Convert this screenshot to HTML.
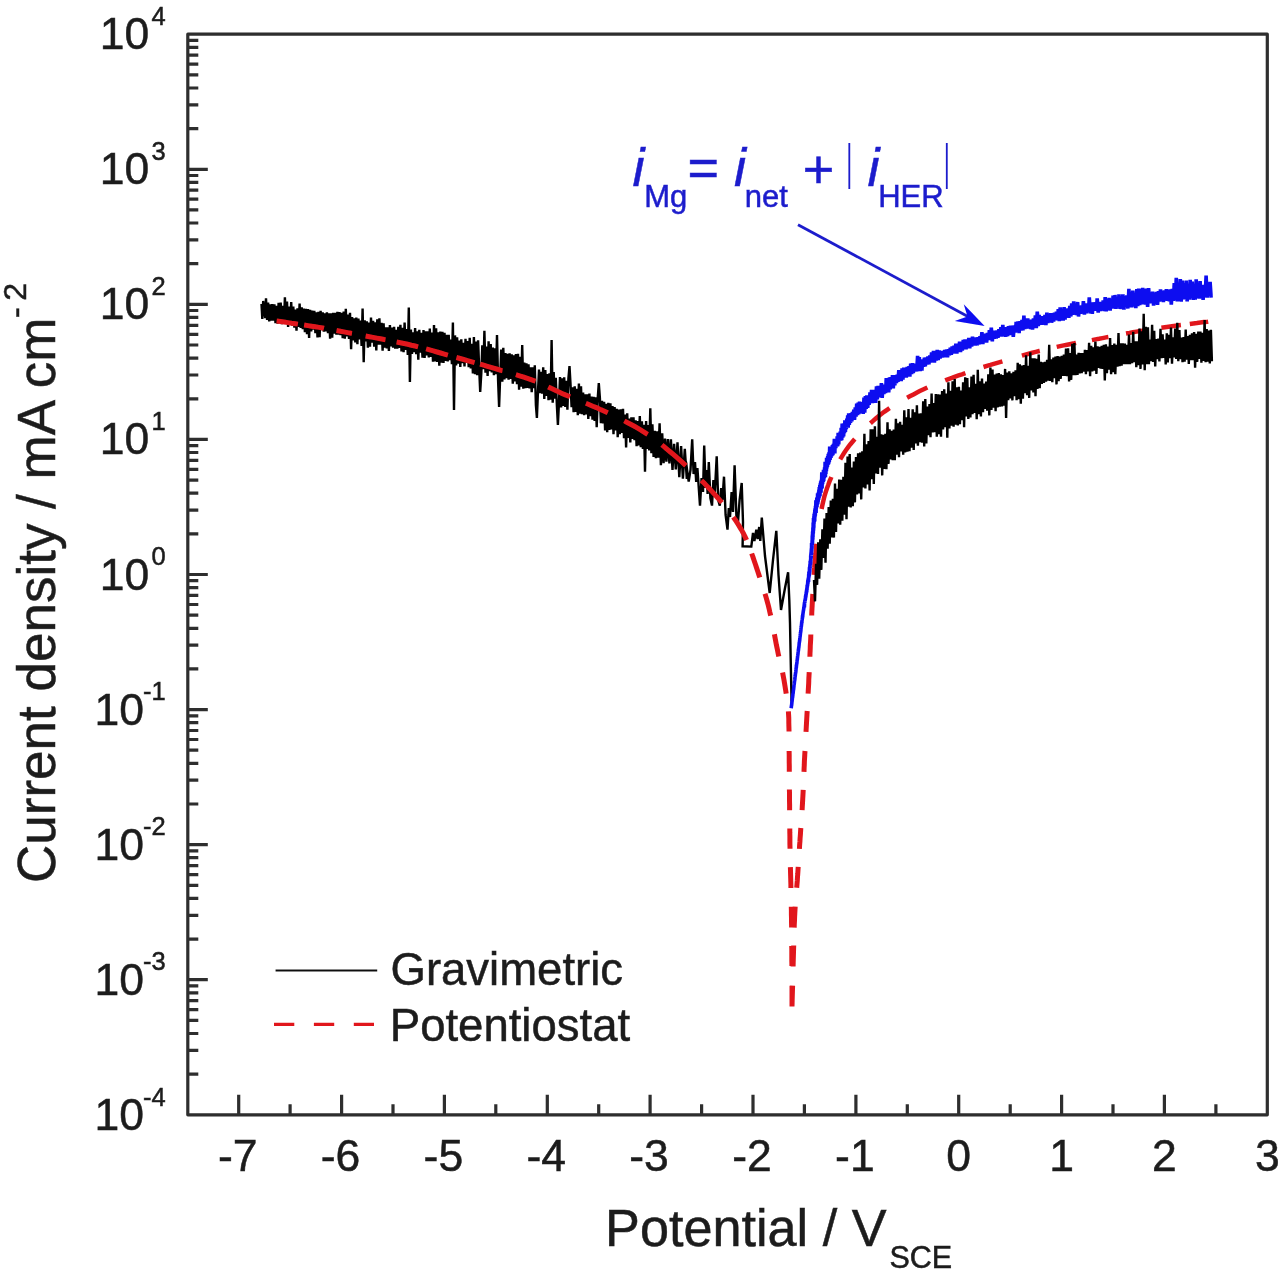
<!DOCTYPE html>
<html lang="en"><head><meta charset="utf-8"><title>Polarisation curve</title>
<style>html,body{margin:0;padding:0;background:#fff;}body{width:1280px;height:1275px;overflow:hidden;}svg{display:block;}text{font-family:"Liberation Sans",sans-serif;stroke-width:0.5px;paint-order:stroke;}</style></head><body>
<svg width="1280" height="1275" viewBox="0 0 1280 1275">
<defs><filter id="soft" x="0" y="0" width="1280" height="1275" filterUnits="userSpaceOnUse"><feGaussianBlur stdDeviation="0.6"/></filter></defs>
<rect x="0" y="0" width="1280" height="1275" fill="#ffffff"/>
<g filter="url(#soft)">
<g fill="none" stroke-linejoin="miter" stroke-miterlimit="2" stroke-linecap="butt">
<path d="M261.5 304.0L262.3 319.0L263.2 301.0L264.3 311.0L265.2 318.0L266.0 298.3L267.1 320.0L268.1 302.6L269.2 321.4L270.2 304.2L271.3 320.7L272.3 304.0L273.4 320.6L274.4 304.2L275.5 323.2L276.5 305.9L277.6 323.6L278.6 302.7L279.7 321.3L280.7 302.6L281.8 324.1L282.8 305.7L283.9 322.8L284.9 297.4L286.0 322.9L287.0 301.6L288.1 327.0L289.1 306.6L290.2 324.4L291.2 302.1L292.3 325.8L293.3 306.6L294.4 327.6L295.4 309.6L296.5 330.8L297.5 308.2L298.6 326.9L299.6 303.5L300.7 327.9L301.7 307.4L302.8 329.3L303.8 308.6L304.9 332.3L305.9 308.8L307.0 334.1L308.0 309.1L309.1 337.9L310.1 309.8L311.2 331.4L312.2 310.5L313.3 329.6L314.3 310.9L315.4 333.3L316.4 312.3L317.5 337.4L318.5 311.7L319.6 337.3L320.6 310.9L321.7 330.3L322.7 312.4L323.8 331.7L324.8 313.2L325.9 331.5L326.9 312.2L328.0 333.1L329.0 313.2L330.1 338.8L331.1 313.3L332.2 337.6L333.2 312.7L334.3 333.8L335.3 312.8L336.4 334.6L337.4 311.7L338.5 334.8L339.5 312.1L340.6 335.2L341.6 312.9L342.7 338.1L343.7 311.5L344.8 338.7L345.8 308.9L346.9 336.4L347.9 314.5L349.0 338.9L350.0 312.8L351.1 349.1L352.1 317.0L353.2 340.5L354.2 318.3L355.3 342.5L356.3 317.5L357.4 344.3L358.4 318.6L359.5 339.5L360.5 320.5L361.6 346.0L362.6 308.6L363.7 362.2L364.7 320.2L365.8 341.5L366.8 321.3L367.9 347.8L368.9 322.6L370.0 346.7L371.0 317.5L372.1 342.8L373.1 320.7L374.2 346.6L375.2 322.2L376.3 350.5L377.3 319.4L378.4 344.6L379.4 318.3L380.5 344.8L381.5 322.9L382.6 350.7L383.6 323.3L384.7 347.8L385.7 327.2L386.8 348.5L387.8 327.4L388.9 350.9L389.9 325.0L391.0 346.4L392.0 327.6L393.1 347.6L394.1 326.8L395.2 348.6L396.2 329.7L397.3 348.7L398.3 326.8L399.4 347.9L400.4 324.9L401.5 351.5L402.5 327.9L403.6 352.2L404.6 322.6L405.7 350.0L406.7 329.0L407.8 354.9L408.8 307.5L409.9 382.0L410.9 329.6L412.0 353.9L413.0 332.2L414.1 352.2L415.1 328.1L416.2 354.1L417.2 331.4L418.3 359.7L419.3 329.7L420.4 352.7L421.4 332.9L422.5 357.7L423.5 330.0L424.6 357.9L425.6 331.4L426.7 355.5L427.7 331.2L428.8 357.5L429.8 328.5L430.9 357.0L431.9 332.6L433.0 361.7L434.0 325.0L435.1 361.4L436.1 328.4L437.2 361.9L438.2 332.4L439.3 365.6L440.3 331.5L441.4 362.7L442.4 331.8L443.5 362.9L444.5 332.9L445.6 361.0L446.6 334.9L447.7 361.5L448.7 334.8L449.8 360.3L450.8 339.5L451.9 364.1L452.9 322.5L454.0 410.0L455.0 335.4L456.1 365.5L457.1 337.2L458.2 363.8L459.2 340.5L460.3 367.0L461.3 339.3L462.4 363.1L463.4 342.7L464.5 366.5L465.5 338.8L466.6 362.9L467.6 341.1L468.7 367.1L469.7 337.8L470.8 368.5L471.8 343.8L472.9 373.4L473.9 337.1L475.0 374.1L476.0 341.6L477.1 375.2L478.1 340.2L479.2 369.3L480.2 392.0L481.3 373.5L482.3 345.3L483.4 369.2L484.4 330.8L485.5 372.6L486.5 346.5L487.6 376.0L488.6 341.2L489.7 371.1L490.7 344.0L491.8 372.4L492.8 347.6L493.9 375.2L494.9 348.4L496.0 374.3L497.0 335.0L498.1 380.9L499.1 407.0L500.2 376.1L501.2 349.6L502.3 381.7L503.3 347.9L504.4 379.4L505.4 353.0L506.5 378.1L507.5 353.9L508.6 379.7L509.6 353.2L510.7 378.9L511.7 354.4L512.8 383.8L513.8 355.4L514.9 381.4L515.9 354.0L517.0 384.1L518.0 353.7L519.1 389.6L520.1 356.8L521.2 386.8L522.2 345.0L523.3 388.7L524.3 362.6L525.4 388.2L526.4 363.4L527.5 387.9L528.5 364.3L529.6 388.4L530.6 367.3L531.7 392.2L532.7 367.4L533.8 388.2L534.8 365.4L535.9 405.2L536.9 418.0L538.0 391.0L539.0 369.6L540.1 393.3L541.1 371.8L542.2 393.6L543.2 367.3L544.3 399.0L545.3 370.0L546.4 395.9L547.4 374.1L548.5 400.3L549.5 373.4L550.6 399.6L551.6 340.0L552.7 402.7L553.7 372.1L554.8 398.7L555.8 377.8L556.9 406.0L557.9 425.0L559.0 401.9L560.0 377.0L561.1 407.4L562.1 378.4L563.2 406.0L564.2 377.3L565.3 406.9L566.3 380.8L567.4 409.8L568.4 378.6L569.5 366.0L570.5 383.8L571.6 407.2L572.6 387.4L573.6 412.2L574.7 386.2L575.7 412.0L576.8 388.7L577.8 415.3L578.9 383.5L579.9 413.8L581.0 386.2L582.0 414.2L583.1 392.6L584.1 415.3L585.2 394.4L586.2 414.4L587.3 394.3L588.3 418.9L589.4 393.6L590.4 416.3L591.5 396.6L592.5 419.7L593.6 396.7L594.6 421.0L595.7 397.3L596.7 427.3L597.8 397.3L598.8 383.0L599.9 398.1L600.9 423.3L602.0 400.7L603.0 423.4L604.1 401.7L605.1 430.4L606.2 403.7L607.2 432.2L608.3 402.7L609.3 430.0L610.4 403.4L611.4 429.5L612.5 406.1L613.5 434.3L614.6 407.0L615.6 430.5L616.7 408.7L617.7 437.2L618.8 409.5L619.8 434.3L620.9 409.2L621.9 433.0L623.0 408.8L624.0 438.3L625.1 414.6L626.1 447.5L627.2 413.2L628.2 437.9L629.3 418.5L630.3 442.5L631.4 417.2L632.4 438.9L633.5 417.3L634.5 440.2L635.6 420.4L636.6 446.3L637.7 421.1L638.7 445.5L639.8 416.1L640.8 447.3L641.9 421.2L642.9 449.0L644.0 424.7L645.0 471.7L646.1 421.1L647.1 448.9L648.2 425.1L649.2 450.4L650.3 408.3L651.4 453.2L652.4 424.3L653.6 457.0L654.7 430.8L655.9 458.1L657.1 431.3L658.3 457.6L659.6 423.2L660.9 465.1L662.2 433.4L663.6 463.3L665.0 438.5L666.4 461.6L667.9 439.0L669.4 463.5L670.9 439.4L672.5 469.9L674.1 443.9L675.8 469.3L677.5 442.3L679.3 477.3L681.1 446.1L682.9 478.7L684.8 448.9L686.8 478.9L686.0 462.0L688.7 481.6L690.5 470.0L692.2 439.3L693.6 474.0L695.0 462.0L696.2 482.0L697.4 468.0L700.0 505.6L701.6 478.0L703.0 492.0L704.2 445.6L705.6 488.0L706.6 470.0L707.6 494.0L708.8 462.0L710.4 498.0L712.0 505.6L713.4 480.0L714.6 497.0L716.7 456.2L718.2 500.0L719.8 505.6L721.2 488.0L722.4 500.0L724.0 476.7L725.6 515.0L727.5 529.6L728.8 508.0L730.0 517.0L731.6 492.0L733.0 512.0L734.6 465.4L736.4 516.0L738.0 522.0L739.6 500.0L741.7 483.0L743.0 522.0L742.6 546.3L751.3 546.6L753.0 533.0L754.4 541.0L756.3 529.6L757.6 539.0L759.2 527.0L760.3 541.0L761.8 517.7L765.0 556.0L769.7 593.0L773.0 560.0L776.3 530.8L778.5 575.0L781.0 610.0L785.0 588.0L788.1 572.3L789.3 600.0L790.0 623.0L790.8 665.0L791.7 708.0" stroke="#000" stroke-width="2.4"/>
<path d="M276.6 321.1L280.4 321.6L284.1 322.1L287.9 322.6L291.6 323.2L295.4 323.7L297.9 324.1M304.1 325.0L307.9 325.6L311.6 326.2L315.3 326.8L319.1 327.4L322.8 328.0L324.0 328.3M336.5 330.5L340.2 331.2L343.9 331.9L347.6 332.6L351.3 333.3L352.0 333.4M365.6 336.0L369.3 336.7L373.1 337.4L376.8 338.1L380.5 338.8L384.2 339.5L385.5 339.7M396.6 342.0L400.3 342.7L404.0 343.5L407.7 344.3L411.4 345.2L415.1 346.0L418.1 346.8M426.1 348.9L429.7 349.9L433.3 350.9L437.0 352.0L440.6 353.0L444.3 354.1L447.9 355.1M456.4 357.5L460.1 358.5L463.7 359.5L467.4 360.6L471.0 361.6L474.6 362.6M480.1 364.2L483.7 365.2L487.4 366.3L491.0 367.3L494.6 368.4L498.3 369.5L501.9 370.6L502.5 370.7M515.9 374.7L519.5 375.8L523.1 376.9L526.7 378.1L530.3 379.3L533.8 380.6L535.6 381.2M548.2 386.9L551.6 388.6L555.1 390.2L558.5 391.8L562.0 393.4L565.4 394.9L568.9 396.3L570.1 396.8M585.9 403.3L589.4 404.7L592.9 406.2L596.4 407.6L599.8 409.2L603.3 410.7L606.7 412.3L607.8 412.8M624.3 420.9L627.7 422.7L631.1 424.5L634.4 426.3L637.7 428.2L640.9 430.1L644.1 432.1L647.2 434.1L647.7 434.4M661.9 444.9L664.9 447.3L667.8 449.8L670.7 452.2L673.6 454.7L676.5 457.2L679.3 459.7L682.1 462.2L685.0 464.8L685.9 465.6M701.4 480.4L704.1 483.1L706.7 485.9L709.3 488.6L711.9 491.4L714.4 494.2L717.0 497.0L719.5 499.9L721.9 502.7M733.3 517.1L735.5 520.2L737.5 523.3L739.5 526.6L741.5 529.9L743.3 533.2L745.0 536.6L746.6 540.0M751.7 553.5L753.0 557.1L754.2 560.7L755.4 564.3L756.6 567.9L757.8 571.5L759.0 575.1L759.8 577.5M765.0 593.7L766.1 597.4L767.1 601.0L768.1 604.7L769.0 608.3L769.8 612.0L770.7 615.7M774.4 634.3L775.1 638.0L775.8 641.7L776.5 645.4L777.3 649.1L778.0 652.8L778.8 656.6M782.6 672.5L783.3 676.2L784.0 680.0L784.6 683.7L785.2 687.4L785.8 691.2L786.2 693.7M788.4 711.3L788.6 715.0L788.8 718.8L788.8 722.6L788.9 726.4L789.0 730.1L789.0 731.4M789.1 751.0L789.2 754.8L789.2 758.5L789.2 762.3L789.3 766.1L789.3 769.9L789.3 771.8M789.4 789.5L789.5 793.3L789.5 797.0L789.5 800.8L789.6 804.6L789.6 808.4L789.6 810.3M789.8 828.6L789.8 832.4L789.9 836.2L789.9 839.9L789.9 843.7L790.0 847.5L790.0 848.8M790.4 867.1L790.5 870.9L790.6 874.6L790.7 878.4L790.8 882.2L790.9 886.0L790.9 887.9M791.3 906.8L791.4 910.6L791.4 914.4L791.5 918.2L791.5 922.0L791.6 925.7L791.6 927.6M791.7 945.9L791.8 949.7L791.8 953.5L791.8 957.3L791.8 961.1L791.9 964.9L791.9 966.1M792.0 985.7L792.0 989.5L792.0 993.2L792.0 997.0L792.0 1000.8L792.0 1004.6L792.0 1006.5M811.7 615.5L811.8 611.9L812.0 608.3L812.2 604.7L812.4 601.2L812.6 597.6L812.8 594.0M809.9 656.7L810.0 653.1L810.2 649.5L810.3 645.9L810.5 642.4L810.7 638.8L810.8 635.2L810.8 634.6M808.1 693.7L808.3 690.1L808.5 686.6L808.7 683.0L808.8 679.4L809.0 675.8L809.2 672.2M806.0 731.9L806.2 728.3L806.4 724.8L806.6 721.2L806.8 717.6L807.0 714.0L807.2 711.0M804.0 771.9L804.1 768.3L804.3 764.7L804.4 761.2L804.6 757.6L804.8 754.0L805.0 751.0M802.1 810.1L802.3 806.5L802.5 803.0L802.7 799.4L802.9 795.8L803.1 792.2L803.2 789.8M799.4 848.9L799.6 845.3L799.9 841.7L800.1 838.2L800.4 834.6L800.6 831.0L800.8 828.0M796.7 887.7L797.0 884.1L797.3 880.5L797.5 876.9L797.8 873.3L798.0 869.8L798.2 866.8M794.2 927.6L794.3 924.0L794.5 920.4L794.6 916.9L794.8 913.3L795.0 909.7L795.2 906.7M793.1 966.5L793.2 962.9L793.3 959.3L793.4 955.7L793.5 952.1L793.6 948.5L793.7 945.5M792.0 1006.5L792.1 1002.9L792.2 999.3L792.3 995.7L792.4 992.2L792.5 988.6L792.6 985.6M814.0 574.9L814.3 571.3L814.6 567.7L814.8 564.1L815.1 560.6L815.4 557.0L815.8 553.4L816.1 549.9L816.4 546.3L816.7 543.9" stroke="#e1191e" stroke-width="5.0"/>
<path d="M821.6 509.0L822.3 505.4L823.1 502.0L823.9 498.5L824.8 495.0L825.9 491.6L827.0 488.2L828.3 484.8L829.5 481.4L830.9 478.1L831.3 477.0M840.2 459.4L842.0 456.3L843.9 453.3L845.9 450.3L848.0 447.4L850.2 444.5L852.5 441.7L854.8 439.0M870.4 423.3L873.1 420.9L875.8 418.5L878.5 416.2L881.3 414.0L884.2 411.8L887.1 409.8L889.6 408.1M907.1 397.8L910.3 396.1L913.5 394.4L916.6 392.7L919.8 391.1L923.1 389.5L926.3 388.0L927.4 387.5M945.2 380.4L948.5 379.1L951.9 377.9L955.2 376.6L958.6 375.4L962.0 374.3L965.4 373.1M983.5 367.0L986.9 365.9L990.4 364.9L993.8 363.8L997.3 362.8L1000.7 361.8L1002.4 361.3M1021.9 355.6L1025.4 354.6L1028.8 353.7L1032.3 352.8L1035.8 351.9L1039.3 351.0L1039.8 350.9M1056.7 346.9L1060.2 346.1L1063.7 345.4L1067.2 344.7L1070.8 344.0L1074.3 343.3L1076.0 342.9M1091.9 340.1L1095.5 339.4L1099.0 338.8L1102.5 338.1L1106.0 337.4L1108.4 337.0M1126.0 333.5L1129.5 332.9L1133.0 332.2L1136.6 331.6L1140.1 331.1L1143.6 330.5L1144.8 330.3M1161.4 327.8L1164.9 327.3L1168.5 326.8L1172.0 326.3L1175.6 325.8L1179.1 325.3L1180.9 325.1M1189.8 323.9L1193.4 323.4L1196.9 323.0L1200.5 322.5L1204.0 322.1L1207.6 321.7L1208.2 321.6" stroke="#e1191e" stroke-width="4.5"/>
<path d="M814.0 580.0L815.0 601.4L816.1 563.7L817.1 584.9L818.2 542.2L819.2 578.8L820.3 539.3L821.3 569.9L822.4 529.3L823.4 558.0L824.5 518.6L825.5 562.8L826.6 513.0L827.6 548.6L828.7 507.0L829.7 543.6L830.8 500.6L831.8 537.5L832.9 498.8L833.9 537.6L835.0 483.4L836.0 531.9L837.1 488.8L838.1 523.4L839.2 479.6L840.2 524.7L841.3 479.7L842.3 520.6L843.4 476.9L844.4 514.6L845.5 462.7L846.5 519.3L847.6 456.6L848.6 506.6L849.7 454.0L850.7 507.4L851.8 467.6L852.8 506.1L853.9 461.6L854.9 502.4L856.0 457.0L857.0 494.5L858.1 453.2L859.1 493.4L860.2 452.5L861.2 499.4L862.3 451.4L863.3 487.5L864.4 433.8L865.4 488.4L866.5 444.4L867.5 484.4L868.6 441.1L869.6 490.6L870.7 429.3L871.7 479.2L872.8 429.2L873.8 484.1L874.9 426.2L875.9 473.5L877.0 436.8L878.0 474.0L879.1 400.8L880.1 467.6L881.2 434.2L882.2 475.4L883.3 434.7L884.3 468.9L885.4 433.7L886.4 469.1L887.5 422.4L888.5 463.9L889.6 429.2L890.6 459.5L891.7 430.8L892.7 460.1L893.8 429.6L894.8 460.3L895.9 418.7L896.9 454.6L898.0 423.2L899.0 457.1L900.1 421.9L901.1 451.4L902.2 424.8L903.2 454.6L904.3 410.2L905.3 452.4L906.4 417.2L907.4 451.6L908.5 409.0L909.5 451.3L910.6 417.9L911.6 447.6L912.7 409.3L913.7 450.0L914.8 412.4L915.8 443.4L916.9 405.2L917.9 445.8L919.0 413.5L920.0 442.2L921.1 413.2L922.1 442.7L923.2 401.2L924.2 446.5L925.3 399.0L926.3 443.5L927.4 406.6L928.4 435.2L929.5 404.1L930.5 437.1L931.6 393.5L932.6 432.5L933.7 403.0L934.7 432.3L935.8 394.1L936.8 436.6L937.9 394.2L938.9 434.1L940.0 394.6L941.0 436.6L942.1 391.0L943.1 429.5L944.2 389.2L945.2 427.3L946.3 393.6L947.3 437.8L948.4 382.3L949.4 428.5L950.5 390.7L951.5 425.7L952.6 381.4L953.6 426.6L954.7 379.0L955.7 424.8L956.8 387.2L957.8 425.5L958.9 386.8L959.9 424.3L961.0 390.6L962.0 420.3L963.1 382.2L964.1 427.2L965.2 377.2L966.2 416.4L967.3 378.1L968.3 419.0L969.4 387.2L970.4 417.5L971.5 376.6L972.5 414.1L973.6 374.9L974.6 413.0L975.7 383.9L976.7 419.1L977.8 369.9L978.8 414.2L979.9 381.3L980.9 416.5L982.0 378.5L983.0 412.1L984.1 383.5L985.1 408.9L986.2 381.6L987.2 410.8L988.3 374.3L989.3 415.4L990.4 367.6L991.4 410.0L992.5 369.5L993.5 407.7L994.6 374.6L995.6 411.2L996.7 373.5L997.7 407.4L998.8 373.0L999.8 406.6L1000.9 374.4L1001.9 406.5L1003.0 375.0L1004.0 405.8L1005.1 368.9L1006.1 417.9L1007.2 372.6L1008.2 400.3L1009.3 371.4L1010.3 398.5L1011.4 373.2L1012.4 400.4L1013.5 371.7L1014.5 396.2L1015.6 370.3L1016.6 400.2L1017.7 362.7L1018.7 399.2L1019.8 364.4L1020.8 403.8L1021.9 365.5L1022.9 398.7L1024.0 365.1L1025.0 393.3L1026.1 355.4L1027.1 395.1L1028.2 365.9L1029.2 397.9L1030.3 352.4L1031.3 390.4L1032.4 358.3L1033.4 392.5L1034.5 358.3L1035.5 396.2L1036.6 358.7L1037.6 388.9L1038.7 354.5L1039.7 388.2L1040.8 361.8L1041.8 383.9L1042.9 362.4L1043.9 382.9L1045.0 361.8L1046.0 381.6L1047.1 359.7L1048.1 380.8L1049.2 344.9L1050.2 381.0L1051.3 359.3L1052.3 382.3L1053.4 357.6L1054.4 378.1L1055.5 356.5L1056.5 384.4L1057.6 356.1L1058.6 381.1L1059.7 356.5L1060.7 378.9L1061.8 355.8L1062.8 375.9L1063.9 354.5L1064.9 376.0L1066.0 348.6L1067.0 376.3L1068.1 348.2L1069.1 381.4L1070.2 353.1L1071.2 379.9L1072.3 343.8L1073.3 375.2L1074.4 343.1L1075.4 375.2L1076.5 354.5L1077.5 375.0L1078.6 352.7L1079.6 373.5L1080.7 353.1L1081.7 373.1L1082.8 353.0L1083.8 371.8L1084.9 349.7L1085.9 374.3L1087.0 350.1L1088.0 371.5L1089.1 342.9L1090.1 376.3L1091.2 345.8L1092.2 371.5L1093.3 347.3L1094.3 370.8L1095.4 341.5L1096.4 373.9L1097.5 346.4L1098.5 368.0L1099.6 346.9L1100.6 368.8L1101.7 345.8L1102.7 368.9L1103.8 344.7L1104.8 380.5L1105.9 344.2L1106.9 373.2L1108.0 346.6L1109.0 369.6L1110.1 338.1L1111.1 374.1L1112.2 345.0L1113.2 372.2L1114.3 343.5L1115.3 374.1L1116.4 344.9L1117.4 366.6L1118.5 333.0L1119.5 366.2L1120.6 343.3L1121.6 365.6L1122.7 343.3L1123.7 364.3L1124.8 343.6L1125.8 364.3L1126.9 344.7L1127.9 364.3L1129.0 334.6L1130.0 364.2L1131.1 343.1L1132.1 363.1L1133.2 331.8L1134.2 362.2L1135.3 341.2L1136.3 367.2L1137.4 341.3L1138.4 365.1L1139.5 328.5L1140.5 368.9L1141.6 331.4L1142.6 364.4L1143.7 313.7L1144.7 370.3L1145.8 326.7L1146.8 364.3L1147.9 327.2L1148.9 364.2L1150.0 339.6L1151.0 361.3L1152.1 324.8L1153.1 361.9L1154.2 330.7L1155.2 366.5L1156.3 339.1L1157.3 359.3L1158.4 338.5L1159.4 361.5L1160.5 328.9L1161.5 358.3L1162.6 334.4L1163.6 357.9L1164.7 339.5L1165.7 364.5L1166.8 333.3L1167.8 362.4L1168.9 334.7L1169.9 358.3L1171.0 327.6L1172.0 363.7L1173.1 337.3L1174.1 357.5L1175.2 328.5L1176.2 359.0L1177.3 322.8L1178.3 361.1L1179.4 330.0L1180.4 359.2L1181.5 337.6L1182.5 362.3L1183.6 337.0L1184.6 361.6L1185.7 329.5L1186.7 359.6L1187.8 336.0L1188.8 364.0L1189.9 334.7L1190.9 360.1L1192.0 333.2L1193.0 360.2L1194.1 332.1L1195.1 367.6L1196.2 333.8L1197.2 361.9L1198.3 331.6L1199.3 359.0L1200.4 331.5L1201.4 362.7L1202.5 332.8L1203.5 361.0L1204.6 320.0L1205.6 362.2L1206.7 329.1L1207.7 361.6L1208.8 330.6L1209.8 363.5L1210.9 329.9L1211.9 361.2" stroke="#000" stroke-width="2.4"/>
<path d="M791.2 708.2L791.3 707.2L791.4 706.2L791.6 705.2L791.7 704.2L791.8 703.3L791.9 702.2L792.1 701.3L792.2 700.2L792.3 699.3L792.4 698.2L792.6 697.3L792.7 696.2L792.8 695.3L792.9 694.3L793.1 693.4L793.2 692.3L793.3 691.4L793.4 690.3L793.6 689.4L793.7 688.3L793.8 687.4L793.9 686.3L794.0 685.4L794.2 684.3L794.3 683.5L794.4 682.3L794.5 681.5L794.7 680.3L794.8 679.5L794.9 678.4L795.0 677.5L795.2 676.3L795.3 675.6L795.4 674.3L795.5 673.6L795.7 672.4L795.8 671.7L795.9 670.3L796.0 669.7L796.1 668.3L796.3 667.7L796.4 666.3L796.5 665.6L796.6 664.3L796.8 663.7L796.9 662.3L797.0 661.7L797.1 660.4L797.3 659.8L797.4 658.2L797.5 657.8L797.6 656.3L797.7 655.8L797.9 654.4L798.0 653.9L798.1 652.3L798.2 651.8L798.4 650.5L798.5 649.8L798.6 648.4L798.7 647.9L798.9 646.4L799.0 646.0L799.1 644.3L799.2 643.9L799.3 642.4L799.5 641.9L799.6 640.4L799.7 640.2L799.8 638.6L799.9 638.0L800.1 636.5L800.2 636.0L800.3 634.6L800.4 634.0L800.5 632.6L800.7 632.0L800.8 630.6L800.9 630.0L801.0 628.6L801.1 628.0L801.2 626.6L801.4 626.1L801.5 624.6L801.6 624.0L801.7 622.4L801.9 622.2L802.0 620.6L802.1 620.1L802.3 618.7L802.4 618.2L802.5 616.4L802.7 616.3L802.8 614.6L802.9 614.2L803.1 612.7L803.2 612.3L803.4 610.6L803.5 610.3L803.7 608.7L803.8 608.2L804.0 606.7L804.1 606.3L804.3 604.6L804.5 604.7L804.6 602.2L804.8 602.9L804.9 599.9L805.1 601.2L805.3 598.4L805.4 599.7L805.6 595.6L805.8 597.4L805.9 594.0L806.1 595.3L806.3 591.5L806.4 593.5L806.6 589.6L806.7 592.2L806.9 587.7L807.0 589.9L807.2 585.0L807.3 587.5L807.5 583.8L807.6 585.6L807.8 580.4L807.9 583.7L808.1 578.7L808.2 582.1L808.4 577.6L808.5 581.9L808.7 574.3L808.8 578.3L808.9 571.7L809.1 576.6L809.2 571.3L809.3 575.7L809.5 567.2L809.6 573.5L809.7 566.6L809.8 571.8L809.9 564.2L810.1 568.9L810.2 560.8L810.3 566.9L810.4 561.2L810.5 565.4L810.6 559.3L810.7 563.5L810.7 555.6L810.8 561.2L810.9 553.5L811.0 559.0L811.1 551.7L811.2 557.7L811.3 549.4L811.4 555.4L811.4 548.2L811.5 555.1L811.6 543.1L811.7 551.3L811.8 544.4L811.9 549.3L812.0 542.7L812.0 548.0L812.1 540.6L812.2 545.9L812.3 535.5L812.4 543.6L812.5 534.0L812.5 543.4L812.6 531.6L812.7 539.9L812.8 531.9L812.8 538.9L812.9 527.6L813.0 537.0L813.1 526.9L813.1 533.8L813.2 522.6L813.3 533.5L813.4 524.2L813.5 530.8L813.5 517.9L813.6 529.5L813.7 519.5L813.8 527.7L813.9 516.3L814.0 524.0L814.1 513.8L814.2 522.3L814.3 513.8L814.4 520.5L814.6 512.4L814.7 521.5L814.8 509.6L815.0 517.3L815.2 508.0L815.3 515.8L815.5 505.8L815.7 512.1L815.9 500.3L816.1 513.0L816.3 502.1L816.5 508.3L816.8 497.6L817.0 506.9L817.2 497.9L817.4 504.7L817.6 493.4L817.8 503.6L818.0 493.2L818.2 501.7L818.5 491.9L818.7 499.8L818.9 489.5L819.1 498.0L819.3 487.1L819.6 496.5L819.8 485.1L820.0 496.2L820.3 483.3L820.5 492.8L820.7 481.3L821.0 492.8L821.3 479.8L821.5 489.0L821.8 472.3L822.1 488.3L822.3 472.7L822.6 484.2L822.9 474.3L823.2 482.0L823.5 469.9L823.7 481.1L824.0 470.6L824.3 478.1L824.6 467.4L824.8 476.5L825.1 461.7L825.4 477.3L825.6 464.5L825.9 474.0L826.1 463.0L826.4 471.3L826.6 457.9L826.9 468.5L827.1 458.0L827.4 467.0L827.7 456.1L828.0 465.0L828.3 453.9L828.6 464.3L829.0 452.4L829.3 462.2L829.7 446.5L830.1 460.0L830.6 447.8L831.0 457.8L831.5 447.5L831.9 456.1L832.4 445.2L832.9 455.2L833.4 443.9L833.9 452.4L834.4 438.8L834.8 453.4L835.3 439.1L835.8 448.2L836.3 439.0L836.8 446.7L837.2 436.2L837.7 446.3L838.2 432.7L838.7 444.3L839.2 432.9L839.7 441.0L840.2 431.5L840.7 440.8L841.2 427.8L841.7 440.2L842.2 423.5L842.7 437.7L843.1 425.2L843.6 436.5L844.1 423.2L844.5 433.1L844.9 420.4L845.4 431.9L845.8 420.9L846.3 429.2L846.8 418.5L847.2 427.8L847.7 415.3L848.2 427.7L848.7 413.4L849.3 424.8L849.9 414.1L850.5 423.0L851.1 413.0L851.8 421.5L852.4 411.8L853.1 419.5L853.8 409.6L854.5 419.9L855.3 407.4L856.0 416.6L856.7 403.7L857.5 415.1L858.2 402.6L858.9 414.2L859.6 401.5L860.3 413.2L861.1 403.8L861.8 411.2L862.5 402.0L863.2 413.8L864.0 397.7L864.7 412.7L865.4 396.2L866.2 409.0L866.9 395.4L867.7 407.9L868.5 396.0L869.2 404.8L870.0 392.3L870.8 403.1L871.6 389.9L872.4 403.1L873.2 392.5L874.0 400.6L874.9 389.9L875.7 402.9L876.5 386.3L877.3 399.3L878.1 385.9L878.9 397.4L879.7 388.4L880.6 396.7L881.4 383.1L882.2 397.9L883.0 384.7L883.9 394.1L884.7 384.7L885.5 393.1L886.3 378.2L887.1 392.0L887.9 378.5L888.7 392.4L889.5 377.3L890.2 389.3L891.0 377.1L891.8 387.6L892.5 375.2L893.3 388.4L894.1 375.1L894.8 385.3L895.6 375.9L896.4 383.2L897.2 374.7L898.0 381.9L898.8 370.0L899.6 380.4L900.4 372.3L901.2 381.2L902.1 368.3L902.9 379.7L903.8 367.7L904.6 377.6L905.5 370.5L906.3 377.6L907.2 366.8L908.1 376.6L909.0 366.2L909.8 376.6L910.7 363.6L911.6 374.1L912.4 363.1L913.3 373.0L914.2 364.7L915.0 371.6L915.9 363.6L916.7 371.5L917.6 355.8L918.4 371.1L919.3 357.0L920.1 371.2L921.0 359.5L921.9 370.5L922.7 359.7L923.6 366.8L924.4 357.6L925.3 366.3L926.2 357.4L927.1 364.5L928.0 356.4L928.9 364.3L929.8 355.5L930.7 362.5L931.6 352.4L932.5 362.2L933.5 350.9L934.4 362.6L935.3 353.3L936.3 360.5L937.2 349.9L938.2 360.2L939.1 350.4L940.0 358.6L941.0 351.4L941.9 357.6L942.8 351.1L943.8 357.3L944.7 349.9L945.6 356.1L946.6 349.6L947.5 357.4L948.5 349.2L949.4 355.4L950.3 347.7L951.3 354.7L952.2 346.5L953.1 353.4L954.1 345.8L955.0 352.4L955.9 343.6L956.8 353.5L957.7 344.9L958.7 350.9L959.6 341.7L960.5 352.0L961.4 344.1L962.3 350.5L963.3 340.0L964.2 349.2L965.1 339.5L966.0 349.2L967.0 341.2L967.9 347.6L968.8 337.8L969.7 348.3L970.7 338.8L971.6 346.6L972.5 336.7L973.5 344.8L974.4 337.8L975.3 345.6L976.3 337.4L977.2 345.3L978.1 337.2L979.1 344.4L980.0 336.2L980.9 342.8L981.9 332.2L982.8 344.0L983.7 334.8L984.7 341.3L985.6 333.6L986.6 342.5L987.5 332.9L988.5 340.1L989.4 330.1L990.4 339.1L991.3 327.6L992.3 341.3L993.2 331.1L994.2 338.7L995.1 330.8L996.1 338.5L997.0 330.5L998.0 337.7L998.9 329.1L999.9 336.5L1000.9 327.1L1001.8 336.6L1002.8 324.8L1003.7 336.1L1004.7 327.3L1005.7 336.9L1006.6 327.4L1007.6 336.2L1008.5 326.1L1009.5 333.9L1010.5 325.8L1011.4 335.1L1012.4 325.6L1013.3 336.9L1014.3 325.4L1015.3 332.5L1016.2 321.9L1017.2 331.6L1018.1 321.4L1019.1 333.1L1020.1 321.1L1021.0 330.5L1022.0 319.9L1022.9 330.3L1023.9 315.6L1024.8 329.0L1025.8 321.6L1026.8 328.7L1027.7 318.4L1028.7 328.2L1029.6 319.9L1030.6 329.0L1031.5 319.6L1032.5 329.5L1033.5 318.3L1034.4 328.2L1035.4 315.3L1036.3 328.2L1037.3 311.7L1038.3 326.0L1039.2 315.0L1040.2 324.9L1041.1 316.1L1042.1 324.7L1043.0 316.3L1044.0 323.3L1045.0 315.0L1045.9 325.1L1046.9 312.6L1047.8 323.1L1048.8 314.7L1049.7 322.2L1050.7 313.2L1051.6 322.7L1052.6 313.3L1053.6 321.5L1054.5 312.6L1055.5 319.7L1056.4 311.6L1057.4 320.2L1058.3 309.2L1059.3 321.2L1060.2 307.3L1061.2 320.5L1062.1 309.1L1063.1 320.5L1064.1 307.1L1065.0 319.6L1066.0 308.9L1066.9 316.4L1067.9 308.5L1068.9 317.8L1069.8 305.8L1070.8 316.5L1071.7 303.4L1072.7 314.8L1073.7 301.4L1074.6 314.6L1075.6 303.6L1076.6 315.0L1077.6 302.0L1078.5 316.5L1079.5 305.8L1080.5 313.9L1081.5 305.5L1082.5 313.6L1083.4 301.2L1084.4 314.7L1085.4 303.5L1086.4 313.2L1087.4 304.3L1088.4 311.7L1089.3 297.3L1090.3 313.5L1091.3 302.3L1092.3 313.9L1093.3 302.3L1094.3 310.9L1095.3 302.9L1096.3 310.7L1097.2 298.5L1098.2 312.5L1099.2 302.2L1100.2 311.1L1101.2 301.9L1102.2 310.6L1103.2 300.5L1104.2 311.1L1105.2 297.1L1106.2 311.4L1107.1 300.1L1108.1 309.8L1109.1 298.0L1110.1 310.7L1111.1 299.1L1112.1 308.5L1113.1 295.7L1114.1 308.5L1115.0 295.0L1116.0 308.9L1117.0 298.9L1118.0 307.4L1119.0 294.4L1120.0 309.0L1121.0 298.6L1121.9 308.6L1122.9 294.4L1123.9 309.7L1124.9 296.1L1125.9 306.5L1126.9 295.4L1127.9 308.5L1128.9 288.9L1129.8 307.2L1130.8 296.4L1131.8 307.3L1132.8 290.5L1133.8 306.4L1134.8 295.3L1135.8 308.2L1136.8 289.2L1137.7 306.2L1138.7 288.5L1139.7 305.2L1140.7 288.9L1141.7 304.5L1142.7 287.8L1143.7 304.3L1144.7 289.0L1145.7 304.7L1146.6 288.6L1147.6 306.9L1148.6 288.1L1149.6 303.4L1150.6 292.7L1151.6 303.1L1152.6 291.6L1153.6 305.5L1154.5 293.0L1155.5 304.2L1156.5 291.9L1157.5 304.8L1158.5 291.2L1159.5 301.7L1160.5 289.3L1161.5 300.7L1162.4 291.4L1163.4 302.0L1164.4 290.3L1165.4 300.7L1166.4 289.2L1167.4 300.8L1168.4 289.7L1169.4 301.3L1170.4 289.3L1171.3 304.6L1172.3 288.9L1173.3 300.8L1174.3 283.2L1175.3 300.3L1176.3 277.9L1177.3 301.5L1178.3 287.1L1179.3 300.9L1180.3 279.0L1181.2 301.6L1182.2 280.6L1183.2 299.3L1184.2 283.2L1185.2 299.2L1186.2 280.6L1187.2 301.5L1188.2 284.4L1189.2 299.6L1190.2 279.8L1191.2 298.5L1192.2 281.6L1193.2 299.9L1194.2 285.4L1195.2 299.6L1196.2 279.3L1197.1 297.8L1198.1 286.3L1199.1 298.7L1200.1 281.0L1201.1 298.4L1202.1 285.0L1203.1 300.0L1204.1 284.8L1205.1 297.0L1206.1 275.7L1207.1 297.6L1208.1 284.5L1209.1 296.0L1210.1 281.8L1211.1 297.6" stroke="#0a0af0" stroke-width="3.6"/>
</g>
<g stroke="#2e2e2e" stroke-width="3.2" fill="none" stroke-linecap="butt">
<rect x="187.8" y="34.2" width="1079.5" height="1080.6" stroke-linejoin="round"/>
<path d="M187.8 1074.1h10.5M187.8 1050.4h10.5M187.8 1033.5h10.5M187.8 1020.4h10.5M187.8 1009.7h10.5M187.8 1000.6h10.5M187.8 992.8h10.5M187.8 985.9h10.5M187.8 979.7h20M187.8 939.1h10.5M187.8 915.3h10.5M187.8 898.4h10.5M187.8 885.3h10.5M187.8 874.6h10.5M187.8 865.6h10.5M187.8 857.7h10.5M187.8 850.8h10.5M187.8 844.6h20M187.8 804.0h10.5M187.8 780.2h10.5M187.8 763.3h10.5M187.8 750.2h10.5M187.8 739.5h10.5M187.8 730.5h10.5M187.8 722.7h10.5M187.8 715.8h10.5M187.8 709.6h20M187.8 668.9h10.5M187.8 645.1h10.5M187.8 628.3h10.5M187.8 615.2h10.5M187.8 604.5h10.5M187.8 595.4h10.5M187.8 587.6h10.5M187.8 580.7h10.5M187.8 574.5h20M187.8 533.8h10.5M187.8 510.1h10.5M187.8 493.2h10.5M187.8 480.1h10.5M187.8 469.4h10.5M187.8 460.3h10.5M187.8 452.5h10.5M187.8 445.6h10.5M187.8 439.4h20M187.8 398.8h10.5M187.8 375.0h10.5M187.8 358.1h10.5M187.8 345.0h10.5M187.8 334.3h10.5M187.8 325.3h10.5M187.8 317.4h10.5M187.8 310.5h10.5M187.8 304.3h20M187.8 263.7h10.5M187.8 239.9h10.5M187.8 223.0h10.5M187.8 209.9h10.5M187.8 199.2h10.5M187.8 190.2h10.5M187.8 182.4h10.5M187.8 175.5h10.5M187.8 169.3h20M187.8 128.6h10.5M187.8 104.8h10.5M187.8 88.0h10.5M187.8 74.9h10.5M187.8 64.2h10.5M187.8 55.1h10.5M187.8 47.3h10.5M187.8 40.4h10.5M238.7 1114.8v-20.0M290.1 1114.8v-10.5M341.6 1114.8v-20.0M393.0 1114.8v-10.5M444.4 1114.8v-20.0M495.8 1114.8v-10.5M547.3 1114.8v-20.0M598.7 1114.8v-10.5M650.1 1114.8v-20.0M701.6 1114.8v-10.5M753.0 1114.8v-20.0M804.4 1114.8v-10.5M855.9 1114.8v-20.0M907.3 1114.8v-10.5M958.7 1114.8v-20.0M1010.2 1114.8v-10.5M1061.6 1114.8v-20.0M1113.0 1114.8v-10.5M1164.4 1114.8v-20.0M1215.9 1114.8v-10.5"/>
</g>
<g fill="#1c1c1c" stroke="#1c1c1c">
<text x="144.0" y="1129.8" text-anchor="end" font-size="44.5">10</text>
<text x="165.8" y="1105.5" text-anchor="end" font-size="25.5">-4</text>
<text x="144.0" y="994.7" text-anchor="end" font-size="44.5">10</text>
<text x="165.8" y="970.4" text-anchor="end" font-size="25.5">-3</text>
<text x="144.0" y="859.6" text-anchor="end" font-size="44.5">10</text>
<text x="165.8" y="835.4" text-anchor="end" font-size="25.5">-2</text>
<text x="144.0" y="724.6" text-anchor="end" font-size="44.5">10</text>
<text x="165.8" y="700.3" text-anchor="end" font-size="25.5">-1</text>
<text x="149.3" y="589.5" text-anchor="end" font-size="44.5">10</text>
<text x="165.8" y="565.2" text-anchor="end" font-size="25.5">0</text>
<text x="149.3" y="454.4" text-anchor="end" font-size="44.5">10</text>
<text x="165.8" y="430.1" text-anchor="end" font-size="25.5">1</text>
<text x="149.3" y="319.3" text-anchor="end" font-size="44.5">10</text>
<text x="165.8" y="295.0" text-anchor="end" font-size="25.5">2</text>
<text x="149.3" y="184.3" text-anchor="end" font-size="44.5">10</text>
<text x="165.8" y="160.0" text-anchor="end" font-size="25.5">3</text>
<text x="149.3" y="49.2" text-anchor="end" font-size="44.5">10</text>
<text x="165.8" y="24.9" text-anchor="end" font-size="25.5">4</text>
<text x="237.7" y="1171.3" text-anchor="middle" font-size="44.5">-7</text>
<text x="340.6" y="1171.3" text-anchor="middle" font-size="44.5">-6</text>
<text x="443.4" y="1171.3" text-anchor="middle" font-size="44.5">-5</text>
<text x="546.3" y="1171.3" text-anchor="middle" font-size="44.5">-4</text>
<text x="649.1" y="1171.3" text-anchor="middle" font-size="44.5">-3</text>
<text x="752.0" y="1171.3" text-anchor="middle" font-size="44.5">-2</text>
<text x="854.9" y="1171.3" text-anchor="middle" font-size="44.5">-1</text>
<text x="958.7" y="1171.3" text-anchor="middle" font-size="44.5">0</text>
<text x="1061.6" y="1171.3" text-anchor="middle" font-size="44.5">1</text>
<text x="1164.4" y="1171.3" text-anchor="middle" font-size="44.5">2</text>
<text x="1267.3" y="1171.3" text-anchor="middle" font-size="44.5">3</text>
<text x="605.1" y="1246" font-size="52.2"><tspan>Potential / V</tspan><tspan font-size="30.5" dy="21.5" dx="3">SCE</tspan></text>
<text transform="translate(55 883) rotate(-90)" font-size="53"><tspan>Current density / mA cm</tspan><tspan font-size="32" dy="-29" dx="-0.5">-</tspan><tspan font-size="32" dx="6.5">2</tspan></text>
<text x="390.5" y="985.3" font-size="45.5">Gravimetric</text>
<text x="389.8" y="1041" font-size="45.5">Potentiostat</text>
</g>
<path d="M275.6 970.6H377.2" stroke="#111" stroke-width="2" fill="none"/>
<path d="M274 1024.4H374" stroke="#e1191e" stroke-width="3.4" stroke-dasharray="20.3 19.6" fill="none"/>
<g fill="#1c1ccc" stroke="#1c1ccc">
<text x="632.5" y="186" font-size="54" font-style="italic">i</text>
<text x="644.3" y="206.8" font-size="31">Mg</text>
<text x="687.6" y="186" font-size="54">=</text>
<text x="734" y="186" font-size="54" font-style="italic">i</text>
<text x="744.8" y="206.8" font-size="31">net</text>
<text x="802.8" y="188.3" font-size="54">+</text>
<text x="867.5" y="186" font-size="54" font-style="italic">i</text>
<text x="878.2" y="206.8" font-size="31">HER</text>
</g>
<path d="M849.3 143V189M946.8 143V189" stroke="#1c1ccc" stroke-width="1.8" fill="none"/>
<path d="M798 224.7L972 318.7" stroke="#1c1ccc" stroke-width="2.8" fill="none"/>
<path d="M984.6 326L954.8 321L967.5 316.5L963.75 304.2Z" fill="#0a0af0"/>
</g>
</svg></body></html>
